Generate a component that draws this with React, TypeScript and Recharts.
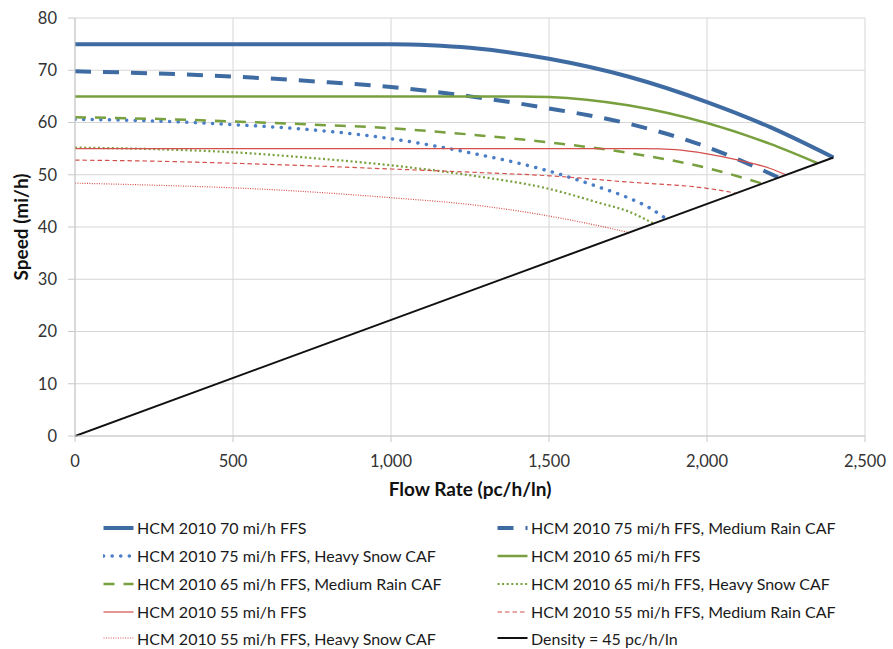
import { LineChart, Line, XAxis, YAxis, CartesianGrid } from 'recharts';

// flow rate (pc/h/ln) and speed (mi/h) for each curve
const flow75 = [0, 250, 500, 750, 1000, 1125, 1250, 1500, 1750, 2000, 2200, 2400];
const speed75 = [75, 75, 75, 75, 75, 74.8, 74.3, 72.2, 68.8, 63.9, 59.1, 53.3];

const flow75Rain = [0, 250, 500, 750, 1000, 1250, 1500, 1750, 2000, 2100, 2225];
const speed75Rain = [69.8, 69.4, 68.8, 67.9, 66.8, 65.0, 62.7, 59.8, 55.3, 52.9, 49.5];

const flow75Snow = [0, 250, 500, 750, 1000, 1250, 1500, 1650, 1750, 1820, 1870];
const speed75Snow = [60.6, 60.3, 59.6, 58.6, 56.9, 54.2, 50.7, 47.8, 45.6, 43.6, 41.6];

const flow65 = [0, 500, 1000, 1400, 1500, 1750, 2000, 2200, 2350];
const speed65 = [65, 65, 65, 65, 64.9, 63.3, 59.9, 55.9, 52.2];

const flow65Rain = [0, 250, 500, 750, 1000, 1250, 1500, 1750, 2000, 2170];
const speed65Rain = [61.0, 60.7, 60.2, 59.6, 58.9, 57.7, 56.2, 54.2, 51.3, 48.4];

const flow65Snow = [0, 250, 500, 750, 1000, 1250, 1500, 1660, 1750, 1830];
const speed65Snow = [55.2, 54.9, 54.3, 53.2, 51.8, 49.9, 47.3, 44.6, 43.0, 40.7];

const flow55 = [0, 500, 1000, 1500, 1800, 1900, 2000, 2100, 2200, 2250];
const speed55 = [55, 55, 55, 55, 55, 54.8, 54.0, 52.8, 51.2, 50.0];

const flow55Rain = [0, 250, 500, 750, 1000, 1250, 1500, 1750, 2000, 2090];
const speed55Rain = [52.8, 52.6, 52.2, 51.7, 51.1, 50.5, 49.8, 48.6, 47.4, 46.5];

const flow55Snow = [0, 250, 500, 750, 1000, 1250, 1500, 1660, 1755];
const speed55Snow = [48.4, 48.0, 47.5, 46.7, 45.6, 44.3, 42.1, 40.2, 38.9];

const flowDensity = [0, 2400];
const speedDensity = [0, 53.3];

const xTicks = [0, 500, 1000, 1500, 2000, 2500];
const yTicks = [0, 10, 20, 30, 40, 50, 60, 70, 80];

const zip = (xs: number[], ys: number[]) => xs.map((flow, i) => ({ flow, speed: ys[i] }));

const BLUE = '#3F6BA3';
const BLUE_DOT = '#4A7EC6';
const GREEN = '#78A03F';
const RED = '#D3504C';

const series = [
  { name: 'HCM 2010 70 mi/h FFS', data: zip(flow75, speed75), color: BLUE, width: 4, dash: undefined, cap: 'butt' },
  { name: 'HCM 2010 75 mi/h FFS, Medium Rain CAF', data: zip(flow75Rain, speed75Rain), color: BLUE, width: 4, dash: '16 12', cap: 'butt' },
  { name: 'HCM 2010 75 mi/h FFS, Heavy Snow CAF', data: zip(flow75Snow, speed75Snow), color: BLUE_DOT, width: 3.5, dash: '0.1 8.5', cap: 'round' },
  { name: 'HCM 2010 65 mi/h FFS', data: zip(flow65, speed65), color: GREEN, width: 2.5, dash: undefined, cap: 'butt' },
  { name: 'HCM 2010 65 mi/h FFS, Medium Rain CAF', data: zip(flow65Rain, speed65Rain), color: GREEN, width: 2.5, dash: '11 9', cap: 'butt' },
  { name: 'HCM 2010 65 mi/h FFS, Heavy Snow CAF', data: zip(flow65Snow, speed65Snow), color: GREEN, width: 2.2, dash: '2 2.6', cap: 'butt' },
  { name: 'HCM 2010 55 mi/h FFS', data: zip(flow55, speed55), color: RED, width: 1.2, dash: undefined, cap: 'butt' },
  { name: 'HCM 2010 55 mi/h FFS, Medium Rain CAF', data: zip(flow55Rain, speed55Rain), color: RED, width: 1.2, dash: '4.5 3', cap: 'butt' },
  { name: 'HCM 2010 55 mi/h FFS, Heavy Snow CAF', data: zip(flow55Snow, speed55Snow), color: RED, width: 1.2, dash: '1 1.4', cap: 'butt' },
  { name: 'Density = 45 pc/h/ln', data: zip(flowDensity, speedDensity), color: '#111111', width: 2, dash: undefined, cap: 'butt' },
];

const FONT = 'Lato, "Open Sans", sans-serif';

function LegendItem({ s, x, y }: { s: (typeof series)[number]; x: number; y: number }) {
  return (
    <div style={{ position: 'absolute', left: x, top: y - 10, height: 20, display: 'flex', alignItems: 'center', whiteSpace: 'nowrap' }}>
      <svg width={31} height={20} style={{ display: 'block' }}>
        <line x1={0.5} y1={10} x2={30.5} y2={10} stroke={s.color} strokeWidth={s.width}
          strokeDasharray={s.dash} strokeLinecap={s.cap as any} />
      </svg>
      <span style={{ marginLeft: 3, fontSize: 16, lineHeight: '19px', color: '#1a1a1a', fontFamily: FONT }}>{s.name}</span>
    </div>
  );
}

export default function App() {
  const rowsY = [527.5, 555.5, 583.5, 611.5, 638];
  return (
    <div style={{ position: 'relative', width: 893, height: 649, background: '#fff', overflow: 'hidden' }}>
      <style>{'body{margin:0}'}</style>
      <LineChart width={893} height={649} margin={{ top: 18, right: 28, bottom: 163, left: 0 }}>
        <CartesianGrid stroke="#D6D6D6" strokeWidth={1} />
        <XAxis
          type="number"
          dataKey="flow"
          domain={[0, 2500]}
          ticks={xTicks}
          allowDataOverflow
          height={50}
          tickSize={6}
          tickMargin={13}
          stroke="#C8C8C8"
          tick={{ fill: '#333', fontSize: 16.5, fontFamily: FONT }}
          tickFormatter={(v: number) => v.toLocaleString('en-US')}
          label={{ value: 'Flow Rate (pc/h/ln)', position: 'insideBottom', offset: -10, style: { fontFamily: FONT, fontWeight: 700, fontSize: 19, fill: '#111' } }}
        />
        <YAxis
          type="number"
          domain={[0, 80]}
          ticks={yTicks}
          width={75}
          tickSize={7}
          tickMargin={11}
          stroke="#C8C8C8"
          tick={{ fill: '#333', fontSize: 16.5, fontFamily: FONT }}
          label={{ value: 'Speed (mi/h)', angle: -90, position: 'insideLeft', offset: 21, style: { textAnchor: 'middle', fontFamily: FONT, fontWeight: 700, fontSize: 19, fill: '#111' } }}
        />
        {series.map((s) => (
          <Line
            key={s.name}
            data={s.data}
            dataKey="speed"
            name={s.name}
            type="monotone"
            stroke={s.color}
            strokeWidth={s.width}
            strokeDasharray={s.dash}
            strokeLinecap={s.cap as any}
            dot={false}
            activeDot={false}
            isAnimationActive={false}
          />
        ))}
      </LineChart>
      {series.map((s, i) => (
        <LegendItem key={s.name} s={s} x={i % 2 === 0 ? 103 : 497} y={rowsY[Math.floor(i / 2)]} />
      ))}
    </div>
  );
}
